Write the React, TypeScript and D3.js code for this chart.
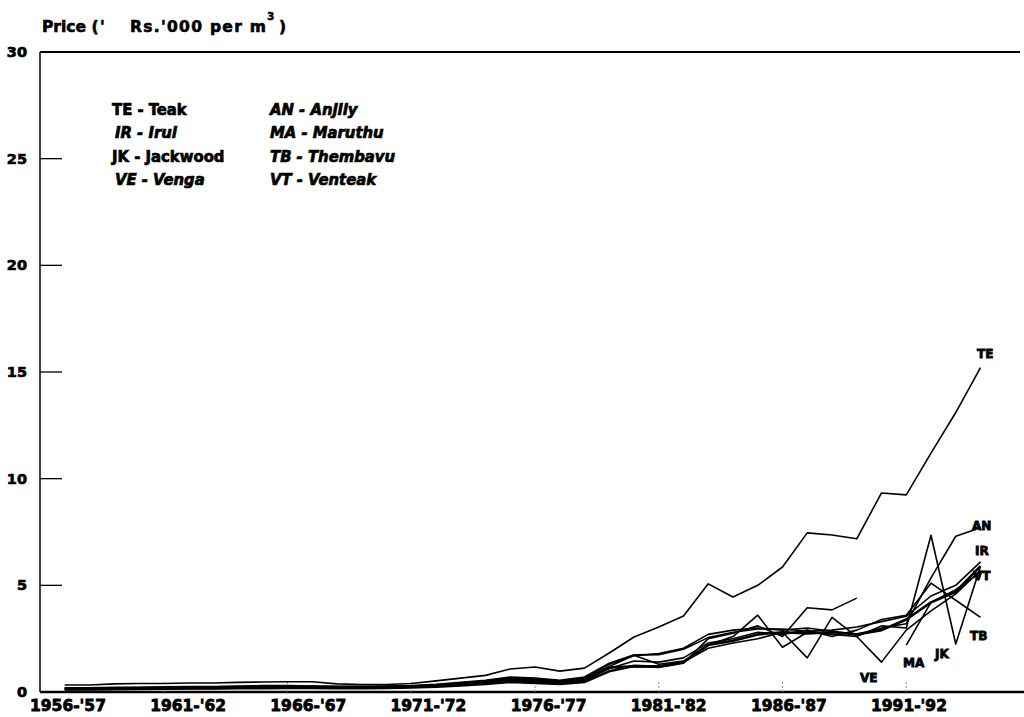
import React from 'react';
import * as d3 from 'd3';

// ---------- DATA ----------
const years = [
  1957, 1958, 1959, 1960, 1961, 1962, 1963, 1964, 1965, 1966,
  1967, 1968, 1969, 1970, 1971, 1972, 1973, 1974, 1975, 1976,
  1977, 1978, 1979, 1980, 1981, 1982, 1983, 1984, 1985, 1986,
  1987, 1988, 1989, 1990, 1991, 1992, 1993, 1994,
];

const teak = [
  0.33, 0.33, 0.38, 0.40, 0.40, 0.42, 0.42, 0.45, 0.47, 0.48,
  0.48, 0.38, 0.35, 0.35, 0.40, 0.52, 0.65, 0.78, 1.08, 1.17,
  0.98, 1.12, 1.83, 2.58, 3.05, 3.56, 5.07, 4.45, 5.00, 5.86,
  7.46, 7.36, 7.18, 9.33, 9.24, 11.2, 13.1, 15.2,
];
const irul = [
  0.20, 0.20, 0.22, 0.22, 0.24, 0.25, 0.26, 0.28, 0.30, 0.30,
  0.28, 0.27, 0.27, 0.28, 0.30, 0.36, 0.45, 0.55, 0.70, 0.65,
  0.55, 0.70, 1.35, 1.74, 1.75, 2.00, 2.55, 2.80, 2.95, 2.95,
  2.85, 2.90, 3.05, 3.30, 3.55, 4.50, 5.00, 6.10,
];
const jackwood = [
  0.15, 0.15, 0.16, 0.18, 0.20, 0.20, 0.22, 0.22, 0.24, 0.25,
  0.24, 0.22, 0.22, 0.24, 0.26, 0.30, 0.38, 0.48, 0.60, 0.55,
  0.45, 0.60, 1.20, 1.72, 1.30, 1.45, 2.20, 2.60, 3.60, 2.10,
  2.80, 2.70, 2.60, 3.10, 3.00, 7.35, 2.25, 5.90,
];
const venga = [
  0.12, 0.12, 0.13, 0.14, 0.15, 0.16, 0.17, 0.18, 0.18, 0.20,
  0.20, 0.18, 0.18, 0.20, 0.22, 0.26, 0.32, 0.40, 0.50, 0.45,
  0.40, 0.50, 1.00, 1.25, 1.20, 1.40, 2.05, 2.30, 2.50, 2.80,
  1.60, 3.50, 2.60, 1.40, 2.90, 3.80, 4.60, 5.70,
];
const anjily = [
  0.18, 0.18, 0.20, 0.20, 0.22, 0.22, 0.24, 0.25, 0.26, 0.28,
  0.27, 0.25, 0.25, 0.26, 0.28, 0.34, 0.42, 0.52, 0.65, 0.62,
  0.52, 0.65, 1.30, 1.70, 1.80, 2.05, 2.70, 2.90, 3.00, 2.90,
  3.00, 2.85, 2.70, 3.00, 3.20, 5.35, 7.30, 7.70,
];
const maruthu = [
  0.10, 0.10, 0.11, 0.12, 0.13, 0.14, 0.14, 0.15, 0.16, 0.17,
  0.17, 0.16, 0.16, 0.17, 0.19, 0.22, 0.28, 0.35, 0.45, 0.40,
  0.35, 0.45, 0.95, 1.20, 1.15, 1.35, 2.50, 2.75, 3.10, 2.60,
  3.95, 3.85, 4.40, null, 2.20, 4.20, 4.80, 5.60,
];
const thembavu = [
  0.14, 0.14, 0.15, 0.16, 0.17, 0.18, 0.19, 0.20, 0.21, 0.22,
  0.21, 0.20, 0.20, 0.21, 0.23, 0.28, 0.35, 0.44, 0.55, 0.50,
  0.42, 0.55, 1.10, 1.45, 1.40, 1.60, 2.30, 2.50, 2.80, 2.70,
  2.90, 2.60, 2.90, 3.40, 3.60, 5.10, 4.30, 3.50,
];
const venteak = [
  0.16, 0.16, 0.17, 0.18, 0.19, 0.20, 0.21, 0.22, 0.23, 0.24,
  0.23, 0.22, 0.22, 0.23, 0.25, 0.30, 0.38, 0.48, 0.60, 0.55,
  0.48, 0.58, 1.15, 1.20, 1.20, 1.40, 2.20, 2.40, 2.70, 2.80,
  2.75, 2.80, 2.70, 2.90, 3.40, 4.20, 4.70, 5.90,
];

const seriesCodes = ['TE', 'IR', 'JK', 'VE', 'AN', 'MA', 'TB', 'VT'];
const seriesNames = ['Teak', 'Irul', 'Jackwood', 'Venga', 'Anjily', 'Maruthu', 'Thembavu', 'Venteak'];
const seriesValues = [teak, irul, jackwood, venga, anjily, maruthu, thembavu, venteak];
// where each series' code label sits, in data units (year, price)
const labelYears = [1993.86, 1993.78, 1992.16, 1989.13, 1993.66, 1990.87, 1993.58, 1993.7];
const labelPrices = [15.67, 6.43, 1.59, 0.47, 7.6, 1.17, 2.44, 5.25];
const legendItalic = [false, true, false, true, true, true, true, true];

const yTicks = [0, 5, 10, 15, 20, 25, 30];
const xTickLabels = ["1956-'57", "1961-'62", "1966-'67", "1971-'72", "1976-'77", "1981-'82", "1986-'87", "1991-'92"];
const xTickYears = [1956, 1961, 1966, 1971, 1976, 1981, 1986, 1991];

// ---------- CHART ----------
const W = 1024;
const H = 717;
const heavy = "'DejaVu Sans', Verdana, sans-serif";
const cond = "'DejaVu Sans Condensed', 'Liberation Sans Narrow', 'DejaVu Sans', sans-serif";

export default function App() {
  const x = d3.scaleLinear().domain([1956, 1994]).range([40, 980.5]);
  const y = d3.scaleLinear().domain([0, 30]).range([692, 52]);
  const xLab = d3.scalePoint<string>().domain(xTickLabels).range([68, 909]);

  const line = d3
    .line<[number, number | null]>()
    .defined((d) => d[1] != null)
    .x((d) => x(d[0]))
    .y((d) => y(d[1] as number));

  return (
    <svg width={W} height={H} style={{ position: 'absolute', left: 0, top: 0, background: '#fff' }}>
      <rect x={0} y={0} width={W} height={H} fill="#fff" />
      {/* title */}
      <text fontFamily={heavy} fontWeight="bold" fontSize={15.5} fill="#000" stroke="#000" strokeWidth={0.6} y={32}>
        <tspan x={42}>{"Price ("}</tspan>
        <tspan x={100}>{"'"}</tspan>
        <tspan x={130} letterSpacing={1.3}>{"Rs.'000 per m"}</tspan>
        <tspan dy={-12} fontSize={10}>3</tspan>
        <tspan dy={12} x={279}>{')'}</tspan>
      </text>

      {/* axes frame */}
      <line x1={40} x2={1020} y1={y(30)} y2={y(30)} stroke="#000" strokeWidth={2} />
      <line x1={40} x2={40} y1={y(30)} y2={y(0)} stroke="#000" strokeWidth={1.5} />
      <line x1={40} x2={1024} y1={y(0)} y2={y(0)} stroke="#000" strokeWidth={2.5} />

      {/* y ticks */}
      {yTicks.map((t) => (
        <g key={t}>
          {t > 0 && t < 30 && <line x1={40} x2={62} y1={y(t)} y2={y(t)} stroke="#000" strokeWidth={1.3} />}
          <text
            x={27}
            y={y(t) + 5}
            textAnchor="end"
            fontFamily={heavy}
            fontWeight="bold"
            fontSize={14.5}
            fill="#000"
            stroke="#000"
            strokeWidth={0.7}
          >
            {t}
          </text>
        </g>
      ))}

      {/* x minor marks */}
      {xTickYears.slice(1).map((yr) => (
        <line key={yr} x1={x(yr)} x2={x(yr)} y1={y(0)} y2={y(0) - 10} stroke="#888" strokeWidth={1} strokeDasharray="2,2" />
      ))}

      {/* x tick labels */}
      {xTickLabels.map((l) => (
        <text
          key={l}
          x={xLab(l)}
          y={711}
          textAnchor="middle"
          fontFamily={heavy}
          fontWeight="bold"
          fontSize={15.5}
          fill="#000"
          stroke="#000"
          strokeWidth={0.8}
        >
          {l}
        </text>
      ))}

      {/* series lines */}
      {seriesValues.map((vals, i) => (
        <path
          key={seriesCodes[i]}
          d={line(years.map((yr, j) => [yr, vals[j]] as [number, number | null])) || ''}
          fill="none"
          stroke="#000"
          strokeWidth={seriesCodes[i] === 'VT' ? 2.6 : 1.6}
          strokeLinejoin="round"
        />
      ))}

      {/* series end labels */}
      {seriesCodes.map((c, i) => (
        <text
          key={c}
          x={x(labelYears[i])}
          y={y(labelPrices[i])}
          fontFamily={heavy}
          fontWeight="bold"
          fontSize={12}
          fill="#000"
          stroke="#000"
          strokeWidth={0.8}
        >
          {c}
        </text>
      ))}

      {/* legend */}
      {seriesCodes.map((c, i) => {
        const col = Math.floor(i / 4);
        const row = i % 4;
        return (
          <text
            key={'lg' + c}
            x={col === 0 ? (legendItalic[i] ? 115 : 112) : 270}
            y={115 + row * 23.3}
            fontFamily={cond}
            fontWeight="bold"
            fontStyle={legendItalic[i] ? 'italic' : 'normal'}
            fontSize={16.5}
            fill="#000"
            stroke="#000"
            strokeWidth={0.7}
          >
            {`${c} - ${seriesNames[i]}`}
          </text>
        );
      })}
    </svg>
  );
}
